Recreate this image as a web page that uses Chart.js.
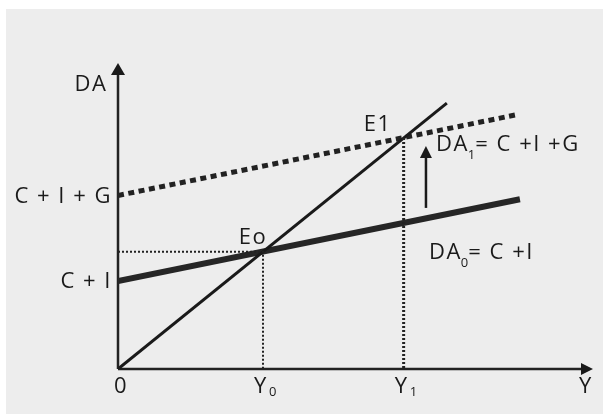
<!DOCTYPE html>
<html>
<head>
<meta charset="utf-8">
<script src="https://cdn.jsdelivr.net/npm/chart.js@4.4.1/dist/chart.umd.min.js"></script>
<style>
  html, body { margin: 0; padding: 0; background: #fff; }
  #wrap { position: absolute; left: 0; top: 0; width: 603px; height: 414px; }
</style>
</head>
<body>
<div id="wrap"><canvas id="c" width="603" height="414"></canvas></div>
<script>
// data (Y on the horizontal axis, DA on the vertical axis)
const lineDA_Y = [{ x: 0, y: 0 }, { x: 113.4, y: 113.4 }];      // 45 degree line DA = Y
const lineDA0 = [{ x: 0, y: 37.5 }, { x: 138.6, y: 72.4 }];     // DA0 = C + I
const lineDA1 = [{ x: 0, y: 74 }, { x: 136.9, y: 108.3 }];      // DA1 = C + I + G
const guideE0 = [{ x: 0, y: 50 }, { x: 50, y: 50 }, { x: 50, y: 0 }];
const guideE1 = [{ x: 98.5, y: 98.5 }, { x: 98.5, y: 0 }];
const shiftArrow = [{ x: 106.2, y: 68.7 }, { x: 106.2, y: 95.1 }];
const xTickVals = [0, 50, 98.5];
const xTickText = ['0', 'Y', 'Y'];
const xTickSub = ['', '0', '1'];
const yTickVals = [37.5, 74];
const yTickText = ['C + I', 'C + I + G'];
const xMax = 163.8, yMax = 130.5;

const FONT = '"Open Sans", Lato, sans-serif';
const INK = '#1a1a1a';
const SP = '1.5px';

function ds(data, w, color, dash) {
    return { data, showLine: true, borderColor: color, borderWidth: w, borderDash: dash || [],
             pointRadius: 0, fill: false, tension: 0, borderCapStyle: 'butt' };
}

function txt(ctx, s, x, y, size, align) {
    ctx.font = size + 'px ' + FONT;
    ctx.letterSpacing = size > 15 ? SP : '0px';
    ctx.textAlign = align || 'center';
    ctx.textBaseline = 'middle';
    ctx.fillText(s, x, y);
}

// text with a subscript, starting at x (left aligned)
function subTxt(ctx, main, sub, rest, x, y) {
    ctx.textAlign = 'left';
    ctx.textBaseline = 'middle';
    ctx.font = '22px ' + FONT;
    ctx.letterSpacing = SP;
    ctx.fillText(main, x, y);
    let w = ctx.measureText(main).width;
    ctx.font = '13px ' + FONT;
    ctx.letterSpacing = '0px';
    ctx.fillText(sub, x + w - 1, y + 10);
    let w2 = ctx.measureText(sub).width;
    ctx.font = '22px ' + FONT;
    ctx.letterSpacing = SP;
    ctx.fillText(rest, x + w + w2 - 1, y);
}

function arrowHead(ctx, x, y, dir, len, half) {
    ctx.beginPath();
    if (dir === 'up') {
        ctx.moveTo(x, y); ctx.lineTo(x - half, y + len); ctx.lineTo(x + half, y + len);
    } else {
        ctx.moveTo(x, y); ctx.lineTo(x - len, y - half); ctx.lineTo(x - len, y + half);
    }
    ctx.closePath();
    ctx.fill();
}

const bgPlugin = {
    id: 'bg',
    beforeDraw(chart) {
        const ctx = chart.ctx;
        ctx.save();
        ctx.fillStyle = '#ffffff';
        ctx.fillRect(0, 0, chart.width, chart.height);
        ctx.fillStyle = '#ededed';
        ctx.fillRect(6, 9, chart.width - 6, chart.height - 9);
        ctx.restore();
    }
};

const axesPlugin = {
    id: 'axes',
    beforeDatasetsDraw(chart) {
        const ctx = chart.ctx, a = chart.chartArea;
        const sx = chart.scales.x, sy = chart.scales.y;
        const ox = sx.getPixelForValue(0), oy = sy.getPixelForValue(0);
        ctx.save();
        ctx.strokeStyle = '#222';
        ctx.fillStyle = '#1a1a1a';
        ctx.lineWidth = 2.5;
        ctx.beginPath();
        ctx.moveTo(ox, oy); ctx.lineTo(a.right - 8, oy);
        ctx.moveTo(ox, oy); ctx.lineTo(ox, a.top + 8);
        ctx.stroke();
        arrowHead(ctx, a.right, oy, 'right', 12, 6);
        arrowHead(ctx, ox, a.top, 'up', 12, 7);
        ctx.restore();
    },
    afterDatasetsDraw(chart) {
        const ctx = chart.ctx;
        const sx = chart.scales.x, sy = chart.scales.y;
        ctx.save();
        ctx.fillStyle = INK;
        // shift arrow head
        const ah = shiftArrow[shiftArrow.length - 1];
        arrowHead(ctx, sx.getPixelForValue(ah.x), sy.getPixelForValue(ah.y), 'up', 12, 6);

        // x axis labels
        const ty = sy.getPixelForValue(0) + 18;
        xTickVals.forEach((v, i) => {
            const px = sx.getPixelForValue(v);
            if (xTickSub[i]) {
                txt(ctx, xTickText[i], px - 2, ty, 22, 'center');
                txt(ctx, xTickSub[i], px + 6, ty + 5, 13, 'left');
            } else {
                txt(ctx, xTickText[i], px + 3, ty, 22, 'center');
            }
        });
        txt(ctx, 'Y', sx.getPixelForValue(xMax) - 7, ty, 22, 'center');

        // y axis labels
        yTickVals.forEach((v, i) => {
            txt(ctx, yTickText[i], sx.getPixelForValue(0) - 6, sy.getPixelForValue(v) + 1, 22, 'right');
        });
        txt(ctx, 'DA', sx.getPixelForValue(0) - 27, sy.getPixelForValue(yMax) + 22, 22, 'center');

        // point labels
        txt(ctx, 'Eo', sx.getPixelForValue(50) - 10, sy.getPixelForValue(50) - 14, 22, 'center');
        txt(ctx, 'E1', sx.getPixelForValue(98.5) - 26, sy.getPixelForValue(98.5) - 13, 22, 'center');

        // curve labels
        subTxt(ctx, 'DA', '1', '= C +I +G', 436, 145);
        subTxt(ctx, 'DA', '0', '= C +I', 429, 253);
        ctx.restore();
    }
};

new Chart(document.getElementById('c'), {
    type: 'scatter',
    data: {
        datasets: [
            ds(guideE0, 2, '#222', [2, 2]),
            ds(guideE1, 3, '#222', [2, 2]),
            ds(lineDA_Y, 3, '#1a1a1a'),
            ds(lineDA0, 6, '#262626'),
            ds(lineDA1, 5, '#222', [6, 4.5]),
            ds(shiftArrow.map((p, i) => i === shiftArrow.length - 1 ? { x: p.x, y: p.y - 3 } : p), 2.5, '#1a1a1a')
        ]
    },
    options: {
        responsive: false,
        animation: false,
        events: [],
        layout: { padding: { left: 118, right: 10, top: 63, bottom: 45 } },
        plugins: { legend: { display: false }, tooltip: { enabled: false } },
        scales: {
            x: { type: 'linear', min: 0, max: xMax, display: false },
            y: { type: 'linear', min: 0, max: yMax, display: false }
        }
    },
    plugins: [bgPlugin, axesPlugin]
});
</script>
</body>
</html>
